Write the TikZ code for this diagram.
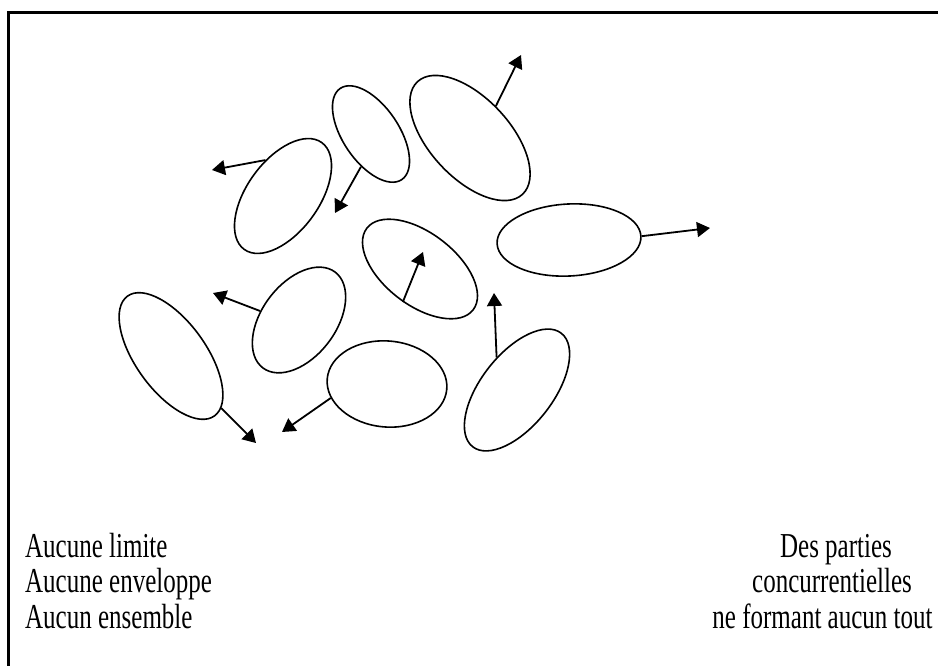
\documentclass[tikz,border=0pt]{standalone}
\usepackage{fontspec}
\setmainfont{Liberation Serif}
\usetikzlibrary{shapes.geometric,arrows.meta}

\tikzset{
  cell/.style={ellipse, draw, line width=1.6pt, inner sep=0pt},
  push/.style={line width=1.8pt, -{Triangle[length=13pt,width=15pt]}},
  caption/.style={inner sep=0pt, font=\fontsize{25}{30}\selectfont},
}
\newcommand{\tall}[1]{\scalebox{1}[1.4]{#1}}

\begin{document}
\begin{tikzpicture}[x=1pt,y=-1pt]
  \useasboundingbox (0,0) rectangle (938,666);

  % frame
  \draw[line width=3pt] (8.5,680) |- (950,12.5);

  % scattered parts
  \node[cell, minimum width=132pt, minimum height=72pt, rotate=54]  (e1) at (283,196) {};
  \node[cell, minimum width=110pt, minimum height=56pt, rotate=-56] (e2) at (371,134) {};
  \node[cell, minimum width=154pt, minimum height=80pt, rotate=-47] (e3) at (470,138) {};
  \node[cell, minimum width=134pt, minimum height=72pt, rotate=-37.5] (e4) at (420,269) {};
  \node[cell, minimum width=144pt, minimum height=72pt, rotate=3]   (e5) at (569,240) {};
  \node[cell, minimum width=144pt, minimum height=72pt, rotate=52]  (e6) at (517,390) {};
  \node[cell, minimum width=120pt, minimum height=86pt, rotate=-5]  (e7) at (387,384) {};
  \node[cell, minimum width=120pt, minimum height=74pt, rotate=53]  (e8) at (299,320) {};
  \node[cell, minimum width=148pt, minimum height=70pt, rotate=-54] (e9) at (171,356) {};

  % arrow tips
  \coordinate (t1) at (212,170);
  \coordinate (t2) at (335,213);
  \coordinate (t3) at (521,55);
  \coordinate (t4) at (423,252);
  \coordinate (t5) at (710,228);
  \coordinate (t6) at (494,293);
  \coordinate (t7) at (282,432);
  \coordinate (t8) at (213,293);
  \coordinate (t9) at (256,443);

  \draw[push] (e1.62)    -- (t1);
  \draw[push] (e2.-51.9) -- (t2);
  \draw[push] (e3.98.6)  -- (t3);
  \draw[push] (e4.-80)   -- (t4);
  \draw[push] (e5.0)     -- (t5);
  \draw[push] (e6.70)    -- (t6);
  \draw[push] (e7.199.4) -- (t7);
  \draw[push] (e8.114.5) -- (t8);
  \draw[push] (e9.8.4)   -- (t9);

  % captions
  \node[caption, anchor=base west] (l1) at (25,557) {\tall{Aucune limite}};
  \node[caption, anchor=base west] (l2) at (25,592.5) {\tall{Aucune enveloppe}};
  \node[caption, anchor=base west] (l3) at (25,628) {\tall{Aucun ensemble}};

  \node[caption, anchor=base] (r1) at (836,557) {\tall{Des parties}};
  \node[caption, anchor=base] (r2) at (832,592.5) {\tall{concurrentielles}};
  \node[caption, anchor=base] (r3) at (822.5,628) {\tall{ne formant aucun tout}};
\end{tikzpicture}
\end{document}
